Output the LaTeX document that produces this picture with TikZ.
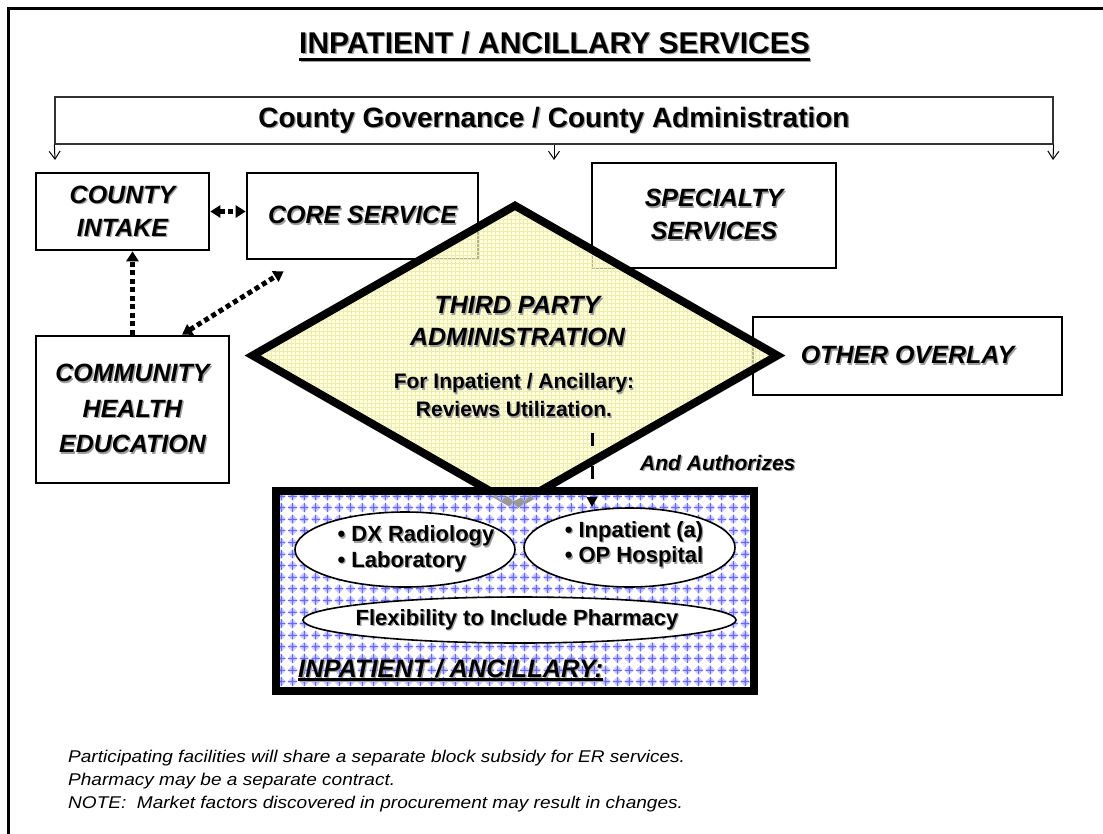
\documentclass[tikz,border=0pt]{standalone}
\usepackage{fontspec}
\setmainfont{Liberation Sans}
\newfontfamily\notefont[FakeStretch=1.12]{Liberation Sans}
\usetikzlibrary{shapes.geometric,arrows.meta}

\definecolor{tpafill}{RGB}{255,255,204}
\definecolor{tpagrid}{RGB}{236,236,178}
\definecolor{patblue}{RGB}{105,105,255}
\definecolor{shadowgray}{gray}{0.62}

% text with a soft drop shadow
\newcommand\shd[1]{\leavevmode\rlap{\kern1.3pt\raisebox{-1.3pt}{\textcolor{shadowgray}{#1}}}#1}
% shadowed text with a shadowed underline: #1 rule raise, #2 shadow raise, #3 thickness, #4 text
\newcommand\ulshd[4]{\setbox0=\hbox{\shd{#4}}%
  \rlap{\kern1.3pt\textcolor{shadowgray}{\rule[#2]{\wd0}{#3}}}%
  \rlap{\rule[#1]{\wd0}{#3}}\box0}

\tikzset{ftip/.tip={Triangle[length=10pt,width=12pt]}}

\begin{document}
\begin{tikzpicture}[x=1pt, y=-1pt,
  box/.style={draw, line width=2.6pt, fill=white, inner sep=0pt, align=center,
    font=\fontsize{25}{33}\selectfont\bfseries\itshape},
  govbar/.style={draw=black!80, line width=1.2pt, fill=white, inner sep=0pt,
    font=\fontsize{28}{30}\selectfont\bfseries},
  govarrow/.style={line width=1pt, -{Straight Barb[length=8pt,width=11pt]}},
  dotarrow/.style={line width=5pt, dash pattern=on 5pt off 3.5pt},
  dasharrow/.style={line width=3pt, dash pattern=on 13pt off 20pt,
    -{Triangle[length=10pt,width=10pt]}},
  tpa/.style={diamond, draw, line width=8pt, fill=tpafill, fill opacity=0.7,
    minimum width=528pt, minimum height=303pt, inner sep=0pt,
    path picture={\draw[tpagrid, line width=0.5pt, step=4pt]
      (path picture bounding box.south west) grid (path picture bounding box.north east);}},
  anc/.style={draw, line width=8pt, fill=white, fill opacity=0.6, inner sep=0pt,
    minimum width=478pt, minimum height=200pt,
    path picture={
      \foreach \i in {0,...,41}{\foreach \j in {0,...,17}{
        \path ([xshift=\i*11.6pt+5pt, yshift=-\j*11.6pt-5pt]path picture bounding box.north west) coordinate (m);
        \fill[patblue!40, fill opacity=0.9] (m) +(-5pt,0) -- +(0,5pt) -- +(5pt,0) -- +(0,-5pt) -- cycle;
        \fill[patblue!70, fill opacity=1] (m) +(-2pt,0) -- +(0,2pt) -- +(2pt,0) -- +(0,-2pt) -- cycle;
        \draw[patblue, line width=0.8pt] (m) +(-4.2pt,0) -- +(4.2pt,0) (m) +(0,-4.2pt) -- +(0,4.2pt);
      }}}},
  oval/.style={ellipse, draw, line width=1.6pt, fill=white, inner sep=0pt},
  ovaltext/.style={align=left, font=\fontsize{22}{25.5}\selectfont\bfseries},
  tpatext/.style={align=center},
  note/.style={anchor=base west, inner sep=0pt, font=\notefont\fontsize{17}{22}\selectfont\itshape}
]
\useasboundingbox (0,0) rectangle (1103,833);
\clip (0,0) rectangle (1103,833);

% outer frame
\draw[line width=3pt] (8,8) rectangle (1120,850);

% heading
\node[anchor=base, inner sep=0pt, font=\fontsize{30}{34}\selectfont\bfseries] (title) at (554.5,53)
  {\ulshd{-8pt}{-9.3pt}{3pt}{INPATIENT / ANCILLARY SERVICES}};

% governance bar and its three drop arrows
\node[govbar, minimum width=998pt, minimum height=47pt] (gov) at (554,120.5)
  {\shd{County Governance / County Administration}};
\coordinate (g1) at (55,160);
\coordinate (g2) at (554,160);
\coordinate (g3) at (1053,160);
\draw[govarrow] (gov.south west) -- (g1);
\draw[govarrow] (gov.south) -- (g2);
\draw[govarrow] (gov.south east) -- (g3);

% service boxes
\node[box, minimum width=173pt, minimum height=77pt] (intake) at (122.5,211.5) {\shd{COUNTY}\\\shd{INTAKE}};
\node[box, minimum width=231pt, minimum height=86pt] (core) at (362.5,216) {\shd{CORE SERVICE}};
\node[box, minimum width=244pt, minimum height=105pt] (spec) at (714,215.5) {\shd{SPECIALTY}\\\shd{SERVICES}};
\node[box, minimum width=193pt, minimum height=147pt, font=\fontsize{25}{35.5}\selectfont\bfseries\itshape]
  (comm) at (132.5,409.5) {\shd{COMMUNITY}\\\shd{HEALTH}\\\shd{EDUCATION}};
\node[box, minimum width=309pt, minimum height=78pt] (other) at (907.5,356) {\shd{OTHER OVERLAY}};

% third party administration
\node[tpa] (tpa) at (515,355.5) {};
\node[tpatext, font=\fontsize{25}{32}\selectfont\bfseries\itshape] (tpat1) at (517.5,322)
  {\shd{THIRD PARTY}\\\shd{ADMINISTRATION}};
\node[tpatext, font=\fontsize{21}{28}\selectfont\bfseries] (tpat2) at (514,396)
  {\shd{For Inpatient / Ancillary:}\\\shd{Reviews Utilization.}};

% inpatient / ancillary block
\node[anc] (anc) at (515,591) {};
\node[oval, minimum width=220pt, minimum height=75pt] (dxel) at (405,549.5) {};
\node[oval, minimum width=211pt, minimum height=79pt] (inpel) at (629.5,547.5) {};
\node[oval, minimum width=433pt, minimum height=46pt] (flexel) at (519.5,620) {};
\node[ovaltext] (dxtxt) at (416,549.5) {\shd{• DX Radiology}\\\shd{• Laboratory}};
\node[ovaltext] (inptxt) at (634,545) {\shd{• Inpatient (a)}\\\shd{• OP Hospital}};
\node[ovaltext] (flextxt) at (517,620) {\shd{Flexibility to Include Pharmacy}};
\node[anchor=base west, inner sep=0pt, font=\fontsize{25.4}{30}\selectfont\bfseries\itshape] (anclbl) at (298,677)
  {\ulshd{-4pt}{-5.3pt}{2.8pt}{INPATIENT / ANCILLARY:}};

\node[anchor=base west, inner sep=0pt, font=\fontsize{21}{25}\selectfont\bfseries\itshape] (authlbl) at (640,470)
  {\shd{And Authorizes}};

% connectors
\draw[dotarrow, {ftip}-{ftip}] (intake.east) -- (intake.east -| core.west);
\draw[dotarrow, -{ftip}] (comm.north) -- (comm.north |- intake.south);
\draw[dotarrow, {ftip}-{ftip}] ([xshift=49.5pt]comm.north) -- ([xshift=38pt,yshift=-11pt]core.south west);
\coordinate (auth) at (592,433);
\draw[dasharrow] (auth) -- (auth |- inpel.north);

% footnotes
\node[note] (n1) at (68,762) {Participating facilities will share a separate block subsidy for ER services.};
\node[note] (n2) at (68,785) {Pharmacy may be a separate contract.};
\node[note] (n3) at (68,808) {NOTE:\ \ Market factors discovered in procurement may result in changes.};
\end{tikzpicture}
\end{document}
